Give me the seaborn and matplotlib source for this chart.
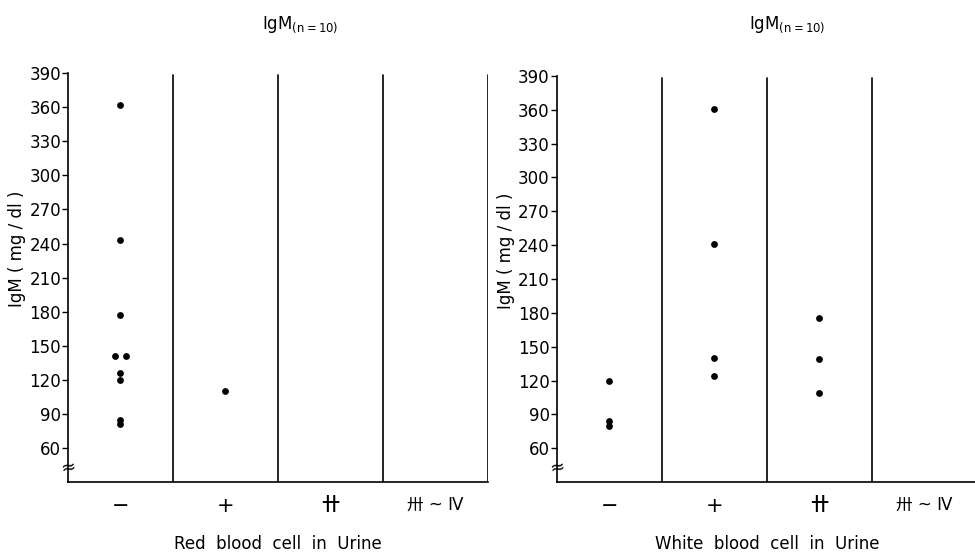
import pandas as pd
import matplotlib.pyplot as plt
import seaborn as sns

# categories of the urine test (-, +, ++, +++ ~ IV)
grades = ['\u2212', '+', '\u5344', '\u5345 ~ \u2163']
y_ticks = [60, 90, 120, 150, 180, 210, 240, 270, 300, 330, 360, 390]

# IgM values, grouped by grade index
rbc_grade = [0, 0, 0, 0, 0, 0, 0, 0, 0, 1]
rbc_igm = [362, 243, 177, 141, 141, 126, 120, 85, 81, 110]
rbc_shift = [0, 0, 0, -0.05, 0.05, 0, 0, 0, 0, 0]

wbc_grade = [0, 0, 0, 1, 1, 1, 1, 2, 2, 2]
wbc_igm = [120, 84, 80, 361, 241, 140, 124, 175, 139, 109]
wbc_shift = [0] * 10

sns.set_style('white')
plt.rcParams['font.family'] = ['DejaVu Sans', 'Noto Sans CJK JP']
plt.rcParams['text.color'] = 'black'
plt.rcParams['axes.labelcolor'] = 'black'
plt.rcParams['xtick.color'] = 'black'
plt.rcParams['ytick.color'] = 'black'

fig = plt.figure(figsize=(9.75, 5.58), dpi=100)
ax1 = fig.add_axes([0.0697, 0.136, 0.4308, 0.733])
ax2 = fig.add_axes([0.571, 0.136, 0.431, 0.728])


def draw_panel(ax, grade, igm, shift, xlabel, last_line):
    df = pd.DataFrame({'grade': grade, 'igm': igm, 'shift': shift})
    df['xpos'] = df['grade'] + df['shift']
    sns.scatterplot(data=df, x='xpos', y='igm', ax=ax, color='black',
                    s=24, edgecolor='black', linewidth=0, legend=False)
    ax.set_xlim(-0.5, 3.5)
    ax.set_ylim(30, 390)
    ax.set_yticks(y_ticks)
    ax.set_yticklabels([str(t) for t in y_ticks], fontsize=12)
    ax.set_xticks(range(len(grades)))
    ax.set_xticklabels(grades, fontsize=12)
    labs = ax.get_xticklabels()
    labs[0].set_fontsize(15)
    labs[1].set_fontsize(15)
    labs[2].set_fontweight('bold')
    labs[2].set_fontsize(13)
    labs[3].set_fontsize(12)
    ax.tick_params(axis='y', direction='out', length=4, width=1, pad=1, left=True)
    ax.tick_params(axis='x', length=0, pad=10)
    for s in ['top', 'right']:
        ax.spines[s].set_visible(False)
    for s in ['left', 'bottom']:
        ax.spines[s].set_linewidth(1.2)
        ax.spines[s].set_color('black')
    # category divider lines
    for xv in [0.5, 1.5, 2.5] + ([3.5] if last_line else []):
        ax.axvline(xv, ymin=0, ymax=0.995, color='black', lw=1.2)
    ax.set_xlabel(xlabel, fontsize=12, labelpad=14)
    ax.set_ylabel('IgM ( mg / dl )', fontsize=12)
    ax.yaxis.set_label_coords(-0.1, 0.57)
    # axis break mark
    ax.text(0, 42, '\u2248', transform=ax.get_yaxis_transform(),
            ha='center', va='center', fontsize=13, rotation=10)


draw_panel(ax1, rbc_grade, rbc_igm, rbc_shift, 'Red  blood  cell  in  Urine', True)
draw_panel(ax2, wbc_grade, wbc_igm, wbc_shift, 'White  blood  cell  in  Urine', False)

fig.text(0.308, 0.955, r'IgM$_{\mathregular{(n=10)}}$', ha='center', va='center', fontsize=12)
fig.text(0.807, 0.955, r'IgM$_{\mathregular{(n=10)}}$', ha='center', va='center', fontsize=12)

fig.savefig('out.png', dpi=100)
